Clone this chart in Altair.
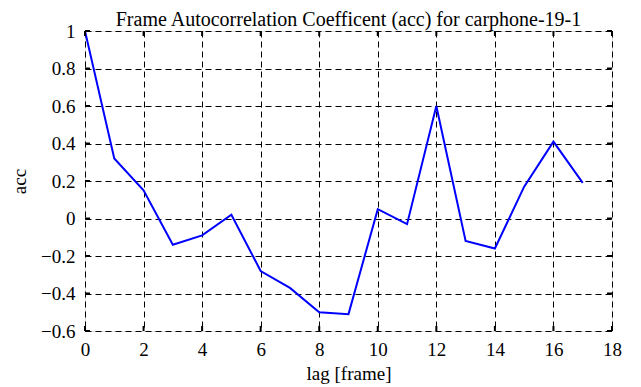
import altair as alt
import pandas as pd

lags = list(range(18))
acc = [1.0, 0.32, 0.15, -0.14, -0.09, 0.02, -0.28, -0.37, -0.50, -0.51,
       0.05, -0.03, 0.60, -0.12, -0.16, 0.17, 0.41, 0.19]
x_ticks = [0, 2, 4, 6, 8, 10, 12, 14, 16, 18]
y_ticks = [-0.6, -0.4, -0.2, 0, 0.2, 0.4, 0.6, 0.8, 1]

df = pd.DataFrame({"lag": lags, "acc": acc})
FONT = "Liberation Serif"

xs = alt.Scale(domain=[0, 18], nice=False, zero=False)
ys = alt.Scale(domain=[-0.6, 1], nice=False, zero=False)

x_axis = alt.Axis(values=x_ticks, tickCount=len(x_ticks), format="d", grid=True,
                  gridColor="black", gridDash=[6, 4], gridOpacity=1, gridWidth=1,
                  ticks=False, domain=False, labelFont=FONT, labelFontSize=19,
                  labelColor="black", labelPadding=9, labelOverlap=False,
                  labelFlush=False, titleFont=FONT,
                  titleFontSize=19, titleFontWeight="normal",
                  titleColor="black", titlePadding=5)
y_axis = alt.Axis(values=y_ticks, tickCount=len(y_ticks), format=".1~f", grid=True,
                  gridColor="black", gridDash=[6, 4], gridOpacity=1, gridWidth=1,
                  ticks=False, domain=False, labelFont=FONT, labelFontSize=19,
                  labelColor="black", labelPadding=10, labelOverlap=False,
                  labelFlush=False, titleFont=FONT,
                  titleFontSize=19, titleFontWeight="normal",
                  titleColor="black", titlePadding=11)

line = alt.Chart(df).mark_line(color="#0000ff", strokeWidth=2, clip=True).encode(
    x=alt.X("lag:Q", scale=xs, title="lag [frame]", axis=x_axis),
    y=alt.Y("acc:Q", scale=ys, title="acc", axis=y_axis),
)

xt = pd.DataFrame({"t": x_ticks})
yt = pd.DataFrame({"t": y_ticks})

bottom_ticks = alt.Chart(xt).mark_rule(color="black", strokeWidth=2).encode(
    x=alt.X("t:Q", scale=xs, title="lag [frame]", axis=x_axis),
    y=alt.datum(-0.6), y2=alt.datum(-0.573))
top_ticks = alt.Chart(xt).mark_rule(color="black", strokeWidth=2).encode(
    x=alt.X("t:Q", scale=xs, title="lag [frame]", axis=x_axis),
    y=alt.datum(1.0), y2=alt.datum(0.973))
left_ticks = alt.Chart(yt).mark_rule(color="black", strokeWidth=2).encode(
    y=alt.Y("t:Q", scale=ys, title="acc", axis=y_axis),
    x=alt.datum(0), x2=alt.datum(0.17))
right_ticks = alt.Chart(yt).mark_rule(color="black", strokeWidth=2).encode(
    y=alt.Y("t:Q", scale=ys, title="acc", axis=y_axis),
    x=alt.datum(18), x2=alt.datum(17.83))

chart = alt.layer(line, bottom_ticks, top_ticks, left_ticks, right_ticks).properties(
    width=527, height=300,
    title=alt.TitleParams("Frame Autocorrelation Coefficent (acc) for carphone-19-1",
                          font=FONT, fontSize=20, fontWeight="normal", color="black",
                          offset=-8),
    autosize=alt.AutoSizeParams(type="none"),
    padding={"left": 77, "top": 23, "right": 20, "bottom": 56},
).configure_view(stroke="black", strokeWidth=2).configure(background="white")

chart.save("out.html", embed_options={"renderer": "svg", "actions": False})
